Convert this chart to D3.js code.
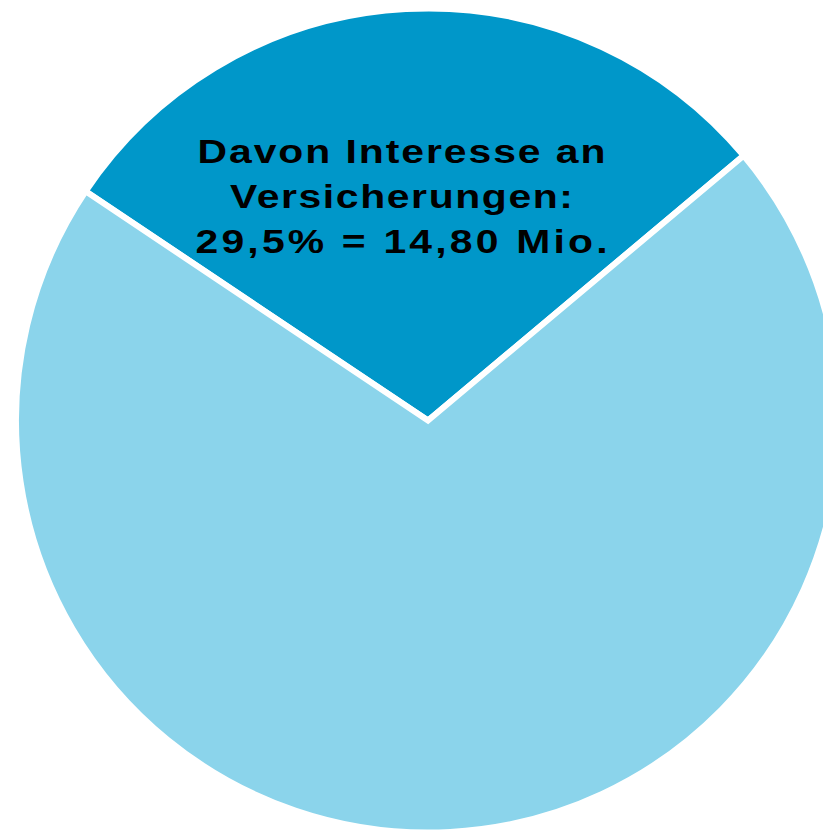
<!DOCTYPE html>
<html>
<head>
<meta charset="utf-8">
<script src="https://cdn.jsdelivr.net/npm/d3@7"></script>
<style>
  html, body { margin: 0; padding: 0; background: #ffffff; }
  svg { display: block; }
</style>
</head>
<body>
<svg id="chart" width="823" height="831"></svg>
<script>
// Anteile der Befragten (Prozent)
const categories = ["Interesse an Versicherungen", "Kein Interesse"];
const shares = [29.5, 70.5];
const colors = ["#0097c9", "#8bd4eb"];
const labelLines = ["Davon Interesse an", "Versicherungen:", "29,5% = 14,80 Mio."];
// Laufweite der Beschriftung je Zeile
const labelWidths = [408, 343, 412];

const width = 823, height = 831;
const cx = 428, cy = 420.5, radius = 412;
const startDeg = -56.2;
const stretchX = 1.22;   // breit laufende Schrift

const svg = d3.select("#chart");
const g = svg.append("g").attr("transform", `translate(${cx},${cy})`);

const pie = d3.pie()
  .sort(null)
  .value(d => d)
  .startAngle(startDeg * Math.PI / 180)
  .endAngle(startDeg * Math.PI / 180 + 2 * Math.PI);

const arc = d3.arc().innerRadius(0).outerRadius(radius);
const color = d3.scaleOrdinal().domain(categories).range(colors);

const arcs = pie(shares);

g.selectAll("path.slice")
  .data(arcs)
  .join("path")
  .attr("class", "slice")
  .attr("d", arc)
  .attr("fill", (d, i) => color(categories[i]))
  .attr("stroke", "#ffffff")
  .attr("stroke-width", 6)
  .attr("stroke-linejoin", "miter");

// Beschriftung im dunklen Segment
svg.selectAll("text.label")
  .data(labelLines)
  .join("text")
  .attr("class", "label")
  .attr("transform", (d, i) => `translate(401.5,${162.5 + i * 45.4}) scale(${stretchX},1)`)
  .attr("x", 0)
  .attr("y", 0)
  .attr("text-anchor", "middle")
  .attr("font-family", "Liberation Sans, Arial, sans-serif")
  .attr("font-weight", "bold")
  .attr("font-size", 33.5)
  .attr("textLength", (d, i) => labelWidths[i] / stretchX)
  .attr("lengthAdjust", "spacing")
  .attr("fill", "#000000")
  .text(d => d);
</script>
</body>
</html>
